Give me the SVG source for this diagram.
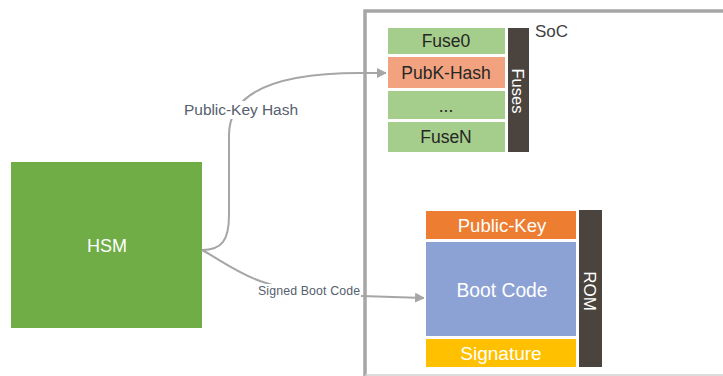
<svg xmlns="http://www.w3.org/2000/svg" width="723" height="376" viewBox="0 0 723 376">
<defs>
<style>
text{font-family:"Liberation Sans","Open Sans",Arial,sans-serif;}
.conn{fill:none;stroke:#a6a6a6;stroke-width:2;}
.lbl{fill:#56606e;}
.cell{stroke:#ffffff;stroke-width:2;}
.bar{fill:#4a433e;}
.dk{fill:#262626;font-size:17.5px;text-anchor:middle;}
.wt{fill:#ffffff;text-anchor:middle;}
</style>
<marker id="arr" viewBox="0 0 10 10" refX="9" refY="5" markerWidth="5" markerHeight="5" orient="auto" markerUnits="strokeWidth">
<path d="M0,0 L10,5 L0,10 z" fill="#a6a6a6"/>
</marker>
</defs>
<rect width="723" height="376" fill="#ffffff"/>

<g id="soc">
<path d="M725,11 L365,11 L365,376" fill="none" stroke="#a6a6a6" stroke-width="3.5"/>
<line x1="365" y1="375" x2="723" y2="375" stroke="#d0d0d0" stroke-width="1.5"/>
<text x="535" y="37" font-size="17" fill="#404040">SoC</text>
</g>

<g id="hsm">
<rect x="11" y="162" width="191" height="166" fill="#70ad47"/>
<text x="107" y="252" class="wt" font-size="18">HSM</text>
</g>

<g id="connectors">
<path class="conn" d="M202,250 C222,250 229,240 229,215 L229,135 C229,95 270,73 360,73 L386,73" marker-end="url(#arr)"/>
<path class="conn" d="M202,250 C230,265 255,290 330,295 C370,296 400,297 424,298" marker-end="url(#arr)"/>
<rect x="183" y="101" width="117" height="18" fill="#ffffff"/>
<text x="184" y="115" font-size="15.5" textLength="114" class="lbl">Public-Key Hash</text>
<rect x="257" y="284" width="104" height="14" fill="#ffffff"/>
<text x="258" y="295" font-size="12.3" textLength="102" class="lbl">Signed Boot Code</text>
</g>

<g id="fuses">
<rect class="cell" x="387" y="27" width="119" height="28" fill="#a5cd8b"/>
<text class="dk" x="446" y="47">Fuse0</text>
<rect class="cell" x="387" y="56" width="119" height="33" fill="#f2a27f"/>
<text class="dk" x="446" y="79">PubK-Hash</text>
<rect class="cell" x="387" y="90" width="119" height="30" fill="#a5cd8b"/>
<text class="dk" x="446" y="112">...</text>
<rect class="cell" x="387" y="121" width="119" height="32" fill="#a5cd8b"/>
<text class="dk" x="446" y="143">FuseN</text>
<rect class="bar" x="508" y="28" width="21" height="124"/>
<text class="wt" font-size="16.5" transform="translate(512,91) rotate(90)" fill="#e6e6e6">Fuses</text>
</g>

<g id="rom">
<rect class="cell" x="425" y="210" width="152" height="30" fill="#ed7d31"/>
<text class="wt" x="502" y="232" font-size="18.5">Public-Key</text>
<rect class="cell" x="425" y="241" width="152" height="96" fill="#8da2d4"/>
<text class="wt" x="502" y="297" font-size="19.3">Boot Code</text>
<rect class="cell" x="425" y="338" width="152" height="30" fill="#ffc000"/>
<text class="wt" x="501" y="360" font-size="19">Signature</text>
<rect class="bar" x="579" y="210" width="23" height="157"/>
<text class="wt" font-size="17" transform="translate(584,291) rotate(90)">ROM</text>
</g>
</svg>
